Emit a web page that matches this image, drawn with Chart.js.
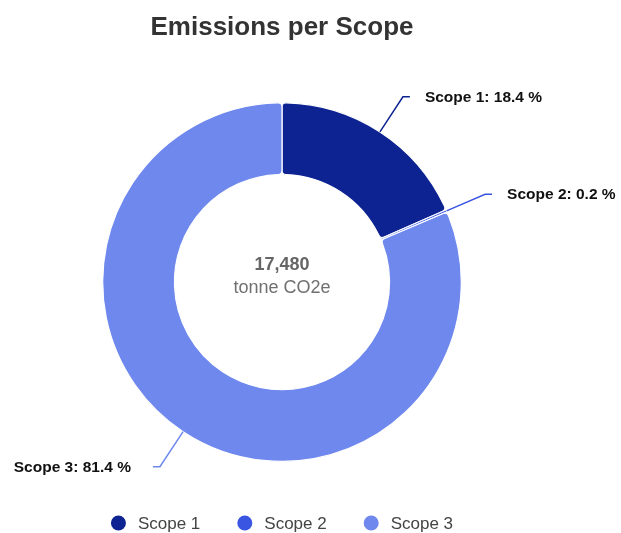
<!DOCTYPE html>
<html>
<head>
<meta charset="utf-8">
<script src="https://cdn.jsdelivr.net/npm/chart.js@4.4.1/dist/chart.umd.min.js"></script>
<style>
  html, body { margin: 0; padding: 0; background: #fff; }
  #wrap { width: 621px; height: 533px; }
</style>
</head>
<body>
<div id="wrap"><canvas id="scopeChart"></canvas></div>
<script>
/* Data */
const scopeLabels = ['Scope 1', 'Scope 2', 'Scope 3'];
const scopeValues = [3216, 35, 14229];
const scopeColors = ['#0c2391', '#3b55e3', '#6e88ee'];
const totalLabel = '17,480';
const unitLabel = 'tonne CO2e';

const FONT = '"Liberation Sans", Arial, sans-serif';

// leader lines + percent labels + centre text
const donutLabels = {
  id: 'donutLabels',
  afterDatasetsDraw(chart) {
    const ctx = chart.ctx;
    const meta = chart.getDatasetMeta(0);
    const total = scopeValues.reduce((a, b) => a + b, 0);
    ctx.save();
    meta.data.forEach((arc, i) => {
      const p = arc.getProps(['x', 'y', 'startAngle', 'endAngle', 'outerRadius'], true);
      const mid = (p.startAngle + p.endAngle) / 2;
      const cos = Math.cos(mid), sin = Math.sin(mid);
      const x0 = p.x + cos * p.outerRadius;
      const y0 = p.y + sin * p.outerRadius;
      const x1 = p.x + cos * (p.outerRadius + 42);
      const y1 = p.y + sin * (p.outerRadius + 42);
      const right = cos >= 0;
      const x2 = x1 + (right ? 7 : -7);
      ctx.strokeStyle = scopeColors[i];
      ctx.lineWidth = 1.5;
      ctx.beginPath();
      ctx.moveTo(x0, y0);
      ctx.lineTo(x1, y1);
      ctx.lineTo(x2, y1);
      ctx.stroke();

      const pct = (scopeValues[i] / total * 100).toFixed(1);
      ctx.font = 'bold 15.5px ' + FONT;
      ctx.fillStyle = '#111';
      ctx.textBaseline = 'middle';
      ctx.textAlign = right ? 'left' : 'right';
      ctx.fillText(scopeLabels[i] + ': ' + pct + ' %', right ? x2 + 15 : x2 - 22, y1 + 1);
    });

    // centre text
    const a = meta.data[0];
    ctx.textAlign = 'center';
    ctx.textBaseline = 'middle';
    ctx.fillStyle = '#666';
    ctx.font = 'bold 18px ' + FONT;
    ctx.fillText(totalLabel, a.x, a.y - 17);
    ctx.font = '18px ' + FONT;
    ctx.fillStyle = '#707070';
    ctx.fillText(unitLabel, a.x, a.y + 6);
    ctx.restore();
  }
};

// simple legend with circles
const circleLegend = {
  id: 'circleLegend',
  afterDraw(chart) {
    const ctx = chart.ctx;
    const cx = chart.getDatasetMeta(0).data[0].x;
    const y = 523;
    ctx.save();
    ctx.font = '17px ' + FONT;
    const widths = scopeLabels.map(t => 15 + 12 + ctx.measureText(t).width);
    const gap = 37;
    const full = widths.reduce((a, b) => a + b, 0) + gap * (widths.length - 1);
    let x = cx - full / 2;
    scopeLabels.forEach((t, i) => {
      ctx.fillStyle = scopeColors[i];
      ctx.beginPath();
      ctx.arc(x + 7.5, y, 7.5, 0, Math.PI * 2);
      ctx.fill();
      ctx.fillStyle = '#444';
      ctx.textAlign = 'left';
      ctx.textBaseline = 'middle';
      ctx.fillText(t, x + 27, y + 1);
      x += widths[i] + gap;
    });
    ctx.restore();
  }
};

const ctxScope = document.getElementById('scopeChart').getContext('2d');
const scopeChart = new Chart(ctxScope, {
  type: 'doughnut',
  data: {
    labels: scopeLabels,
    datasets: [{
      data: scopeValues,
      backgroundColor: scopeColors,
      borderColor: '#ffffff',
      borderWidth: 1.2,
      borderRadius: 4,
      hoverOffset: 0
    }]
  },
  options: {
    responsive: true,
    maintainAspectRatio: false,
    animation: false,
    cutout: '60%',
    layout: {
      padding: { top: 0, left: 102, right: 159, bottom: 71 }
    },
    plugins: {
      legend: { display: false },
      tooltip: { enabled: false },
      title: {
        display: true,
        text: 'Emissions per Scope',
        color: '#333',
        font: { family: FONT, size: 26, weight: 'bold' },
        padding: { top: 12, bottom: 59 }
      }
    }
  },
  plugins: [donutLabels, circleLegend]
});
</script>
</body>
</html>
